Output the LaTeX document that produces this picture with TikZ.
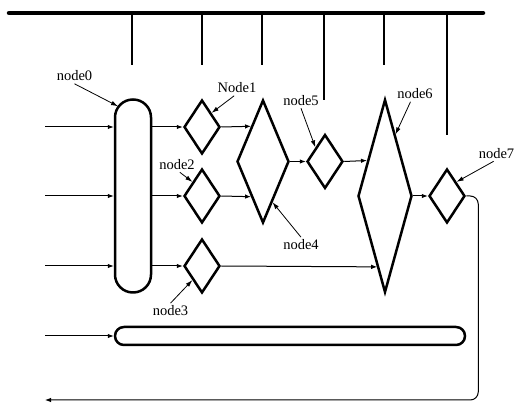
\documentclass[tikz,border=0pt]{standalone}
\usepackage{fontspec}
\setmainfont{Liberation Serif}
\usetikzlibrary{shapes.geometric,arrows.meta,calc}

\begin{document}
\begin{tikzpicture}[
  x=1pt, y=-1pt,
  gate/.style={draw, diamond, line width=2.5pt, inner sep=0pt, minimum width=36pt, minimum height=54pt},
  pill/.style={draw, rectangle, line width=2.5pt, inner sep=0pt},
  tag/.style={font=\fontsize{14.5}{16}\selectfont, inner sep=2.5pt},
  arrow/.style={-{Latex[length=6pt,width=4.5pt]}, line width=1pt},
  pointer/.style={-{Latex[length=7pt,width=4.5pt]}, line width=0.8pt}
]
\useasboundingbox (0,0) rectangle (515,403);
\draw[line width=4.5pt, line cap=round] (9,13) -- (483,13);
\foreach \x/\y in {132/65,202/65,262/65,324/100,384/65,447/135}
  \draw[line width=1.2pt] (\x,13) -- (\x,\y);

\node[pill, minimum width=36pt, minimum height=193pt, rounded corners=17.9pt] (node0) at (133,196) {};
\node[pill, minimum width=350pt, minimum height=18pt, rounded corners=8.9pt] (lane) at (290,336) {};
\node[gate] (node1) at (202,127) {};
\node[gate] (node2) at (202,196) {};
\node[gate] (node3) at (202,266) {};
\node[gate, minimum width=52pt, minimum height=123pt] (node4) at (263,161.5) {};
\node[gate] (node5) at (325,161.5) {};
\node[gate, minimum width=54pt, minimum height=193pt] (node6) at (385,196) {};
\node[gate] (node7) at (447,196) {};

\foreach \r/\y in {1/127,2/196,3/266,4/336}
  \coordinate (in\r) at (45,\y);
\coordinate (back) at (45,400);
\foreach \r in {1,2,3} {
  \draw[arrow] (in\r) -- (in\r -| node0.west);
  \draw[arrow] (node\r.west -| node0.east) -- (node\r.west);
}
\draw[arrow] (in4) -- (lane.west);
\draw[arrow] (node1.east) -- ($(node4.west)!0.561!(node4.north)$);
\draw[arrow] (node2.east) -- ($(node4.west)!0.561!(node4.south)$);
\draw[arrow] (node3.east) -- ($(node6.west)!0.725!(node6.south)$);
\draw[arrow] (node4.east) -- (node5.west);
\draw[arrow] (node5.east) -- ($(node6.west)!0.363!(node6.north)$);
\draw[arrow] (node6.east) -- (node7.west);
\draw[arrow, rounded corners=8pt] (node7.east) -- ++(12,0) |- (back);

\node[tag] (lbl0) at (74.5,76) {node0};
\node[tag] (lbl1) at (237,88) {Node1};
\node[tag] (lbl2) at (177,164.5) {node2};
\node[tag] (lbl3) at (170.5,311) {node3};
\node[tag] (lbl4) at (301,245) {node4};
\node[tag] (lbl5) at (301,100.5) {node5};
\node[tag] (lbl6) at (415,94) {node6};
\node[tag] (lbl7) at (496.5,153.5) {node7};
\draw[pointer] (lbl0.south) -- ($(node0.north)+(-15,8)$);
\draw[pointer] (lbl1.250) -- (node1.north east);
\draw[pointer] (lbl2.290) -- (node2.north west);
\draw[pointer] (lbl3.north) -- (node3.south west);
\draw[pointer] (lbl4.north) -- ($(node4.east)!0.65!(node4.south)$);
\draw[pointer] (lbl5.south) -- (node5.north west);
\draw[pointer] (lbl6.240) -- ($(node6.north)!0.37!(node6.east)$);
\draw[pointer] (lbl7.250) -- (node7.north east);
\end{tikzpicture}
\end{document}
